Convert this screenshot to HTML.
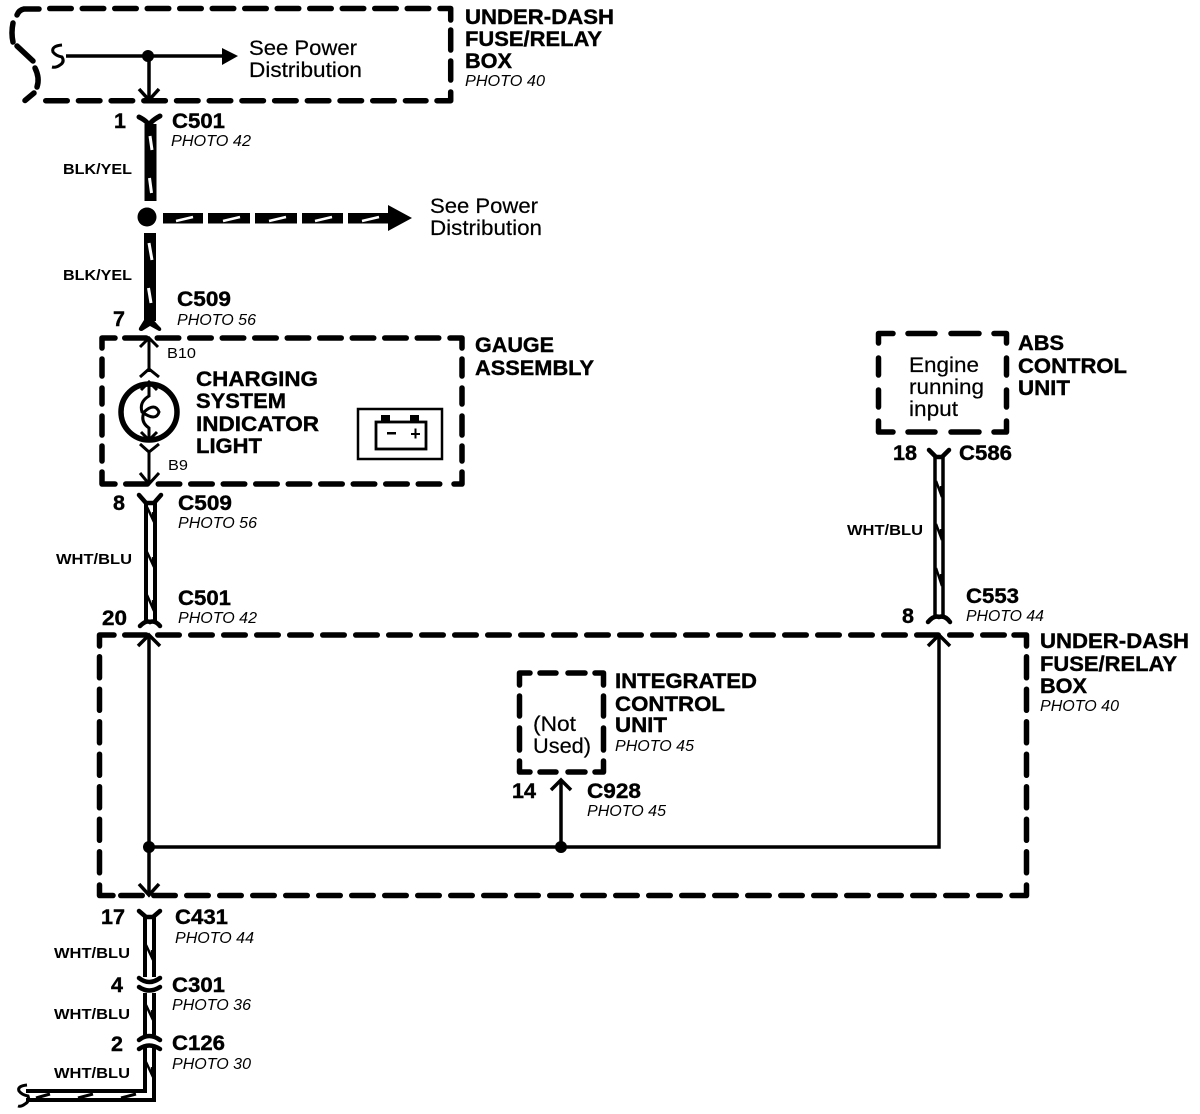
<!DOCTYPE html>
<html><head><meta charset="utf-8">
<style>
html,body{margin:0;padding:0;background:#fff}
svg{display:block}
text{font-family:"Liberation Sans",sans-serif;fill:#000}
.b{font-weight:bold;font-size:21.5px;stroke:#000;stroke-width:.4}
.p{font-style:italic;font-size:15.5px}
.w{font-weight:bold;font-size:15px}
.n{font-size:21px;stroke:#000;stroke-width:.2}
.c{fill:none;stroke:#000;stroke-width:5.5;stroke-linecap:round;stroke-linejoin:round}
.d{fill:none;stroke:#000;stroke-width:5.5;stroke-linecap:round;stroke-dasharray:21.5 11.5}
.t{fill:none;stroke:#000;stroke-width:3.5}
.y{fill:none;stroke:#000;stroke-width:4.5;stroke-linecap:round}
.s{fill:none;stroke:#fff;stroke-width:3}
.z{fill:none;stroke:#000;stroke-width:2.5}
</style></head><body>
<svg width="1200" height="1114" viewBox="0 0 1200 1114" xmlns="http://www.w3.org/2000/svg">
<!-- top box -->
<path class="d" style="stroke-dasharray:21.5 11" d="M49.750 8.500H429"/>
<path class="c" d="M440 8.500H450.700V20M450.700 30V50M450.700 61V80M450.700 92V100.700H437"/>
<path class="d" style="stroke-dasharray:21.5 11.200" d="M45.750 100.700H426"/>
<path class="c" d="M39 9H24Q19 10 17 15M13 23Q11 33 13 42M17 46L33 61M35 68Q40 78 37 87M34 93L25 100.500"/>
<path class="t" d="M66 56H226M149 56V100"/>
<path class="t" style="stroke-width:3" d="M62 45Q51 46 53 52Q56 56 62 57Q65 62 60 65Q56 68 52 67"/>
<path d="M222 48L238 56L222 65Z"/>
<circle cx="148" cy="56" r="6"/>
<path class="t" d="M139 89L149 100L159 89"/>
<text class="b" x="465" y="24" textLength="149" lengthAdjust="spacingAndGlyphs">UNDER-DASH</text>
<text class="b" x="465" y="46" textLength="137" lengthAdjust="spacingAndGlyphs">FUSE/RELAY</text>
<text class="b" x="465" y="68" textLength="47" lengthAdjust="spacingAndGlyphs">BOX</text>
<text class="p" x="465" y="86" textLength="80" lengthAdjust="spacingAndGlyphs">PHOTO 40</text>
<text class="n" x="249" y="55" textLength="108" lengthAdjust="spacingAndGlyphs">See Power</text>
<text class="n" x="249" y="77" textLength="113" lengthAdjust="spacingAndGlyphs">Distribution</text>
<!-- C501 top -->
<text class="b" x="114" y="128">1</text>
<text class="b" x="172" y="128" textLength="53" lengthAdjust="spacingAndGlyphs">C501</text>
<text class="p" x="171" y="146" textLength="80" lengthAdjust="spacingAndGlyphs">PHOTO 42</text>
<path class="y" style="stroke-width:5" d="M139 117Q149 122 149 127Q149 122 160 116"/>
<rect x="144.500" y="124" width="12" height="77"/>
<path class="s" d="M150 136L152 150M149.500 178L151.500 193"/>
<text class="w" x="63" y="174" textLength="69" lengthAdjust="spacingAndGlyphs">BLK/YEL</text>
<circle cx="147" cy="217" r="9.500"/>
<rect x="163" y="213" width="40" height="10.500"/>
<rect x="208" y="213" width="42" height="10.500"/>
<rect x="255" y="213" width="42" height="10.500"/>
<rect x="302" y="213" width="41" height="10.500"/>
<rect x="348" y="213" width="42" height="10.500"/>
<path d="M388 205L412 218L388 231Z"/>
<path class="s" style="stroke-width:2.500" d="M176 221L193 217M223 221L240 217M269 221L286 217M315 221L332 217M362 221L379 217"/>
<text class="n" x="430" y="213" textLength="108" lengthAdjust="spacingAndGlyphs">See Power</text>
<text class="n" x="430" y="235" textLength="112" lengthAdjust="spacingAndGlyphs">Distribution</text>
<rect x="144" y="233" width="12" height="88"/>
<path class="s" d="M149 243L152 260M148.500 288L151 303"/>
<text class="w" x="63" y="280" textLength="69" lengthAdjust="spacingAndGlyphs">BLK/YEL</text>
<path d="M150 316L158 325L161 328Q162 331 159 331L150 326L142 331Q138 331 139 328L144 320Z"/>
<text class="b" x="113" y="326">7</text>
<text class="b" x="177" y="306" textLength="54" lengthAdjust="spacingAndGlyphs">C509</text>
<text class="p" x="177" y="325" textLength="79" lengthAdjust="spacingAndGlyphs">PHOTO 56</text>
<!-- gauge -->
<path class="d" style="stroke-dasharray:21.5 11" d="M124.750 338H445"/>
<path class="d" style="stroke-dasharray:21.5 11" d="M125.750 484H442"/>
<path class="c" d="M115 338H102V348M102 359V376M102 388V404M102 416V435M102 446V461M102 472V484H115"/>
<path class="c" d="M450 338H462V348M462 359V376M462 388V404M462 416V435M462 446V461M462 472V484H454"/>
<path class="t" style="stroke-width:3" d="M149 338V372M140 347L149 338L158 347M140 377L149 369L159 377M149 450V484M140 473L149 484L159 473M140 444L149 452L159 444"/>
<circle cx="149" cy="412" r="28" fill="none" stroke="#000" stroke-width="5.500"/>
<path class="t" style="stroke-width:3" d="M149 385V396Q139 402 142 412Q156 422 159 412Q155 402 144 412Q140 422 149 428V440M141 390L149 382L157 390M141 432L149 440L157 432"/>
<text x="167" y="358" font-size="15" textLength="29" lengthAdjust="spacingAndGlyphs">B10</text>
<text x="168" y="470" font-size="15" textLength="20" lengthAdjust="spacingAndGlyphs">B9</text>
<text class="b" x="196" y="386" textLength="122" lengthAdjust="spacingAndGlyphs">CHARGING</text>
<text class="b" x="196" y="408" textLength="90" lengthAdjust="spacingAndGlyphs">SYSTEM</text>
<text class="b" x="196" y="431" textLength="123" lengthAdjust="spacingAndGlyphs">INDICATOR</text>
<text class="b" x="196" y="453" textLength="66" lengthAdjust="spacingAndGlyphs">LIGHT</text>
<rect x="358" y="409" width="84" height="50" fill="none" stroke="#000" stroke-width="2.500"/>
<rect x="376" y="422" width="50" height="27" fill="none" stroke="#000" stroke-width="2.800"/>
<rect x="381" y="415" width="9" height="7"/><rect x="410" y="415" width="9" height="7"/>
<path d="M387 432h9v2.500h-9zM411 433h9v2h-9zM414.500 428.500h2v10h-2z"/>
<text class="b" x="475" y="352" textLength="79" lengthAdjust="spacingAndGlyphs">GAUGE</text>
<text class="b" x="475" y="375" textLength="119" lengthAdjust="spacingAndGlyphs">ASSEMBLY</text>
<!-- white wire 1 -->
<text class="b" x="113" y="510">8</text>
<text class="b" x="178" y="510" textLength="54" lengthAdjust="spacingAndGlyphs">C509</text>
<text class="p" x="178" y="528" textLength="79" lengthAdjust="spacingAndGlyphs">PHOTO 56</text>
<path class="y" d="M139 495L146 503H154L161 495"/>
<path class="t" style="stroke-width:4" d="M146 503V623M155 503V623"/>
<path class="z" d="M147 507L154 522L153 512M147 552L154 567L153 557M147 595L154 611L153 600"/>
<text class="w" x="56" y="564" textLength="76" lengthAdjust="spacingAndGlyphs">WHT/BLU</text>
<path class="y" d="M140 626Q146 620 150 622Q155 620 160 626"/>
<text class="b" x="102" y="625" textLength="25" lengthAdjust="spacingAndGlyphs">20</text>
<text class="b" x="178" y="605" textLength="53" lengthAdjust="spacingAndGlyphs">C501</text>
<text class="p" x="178" y="623" textLength="79" lengthAdjust="spacingAndGlyphs">PHOTO 42</text>
<!-- ABS -->
<path class="c" d="M893 333.500H878.500V343M908 333.500H935M951 333.500H979M994 333.500H1006.500V343M878.500 358V375M878.500 390V407M1006.500 358V375M1006.500 390V407M878.500 421V432H893M908 432H935M951 432H979M994 432H1006.500V421"/>
<text class="n" x="909" y="372" textLength="70" lengthAdjust="spacingAndGlyphs">Engine</text>
<text class="n" x="909" y="394" textLength="75" lengthAdjust="spacingAndGlyphs">running</text>
<text class="n" x="909" y="416" textLength="49" lengthAdjust="spacingAndGlyphs">input</text>
<text class="b" x="1018" y="350" textLength="46" lengthAdjust="spacingAndGlyphs">ABS</text>
<text class="b" x="1018" y="373" textLength="109" lengthAdjust="spacingAndGlyphs">CONTROL</text>
<text class="b" x="1018" y="395" textLength="52" lengthAdjust="spacingAndGlyphs">UNIT</text>
<text class="b" x="893" y="460" textLength="24" lengthAdjust="spacingAndGlyphs">18</text>
<text class="b" x="959" y="460" textLength="53" lengthAdjust="spacingAndGlyphs">C586</text>
<path class="y" d="M929 450L936 457H942L949 450"/>
<path class="t" d="M935 457V615M943 457V615"/>
<path class="z" d="M936 481L942 497L941 486M936 524L942 540L941 529M936 568L942 586L941 574"/>
<text class="w" x="847" y="535" textLength="76" lengthAdjust="spacingAndGlyphs">WHT/BLU</text>
<text class="b" x="902" y="623">8</text>
<text class="b" x="966" y="603" textLength="53" lengthAdjust="spacingAndGlyphs">C553</text>
<text class="p" x="966" y="621" textLength="78" lengthAdjust="spacingAndGlyphs">PHOTO 44</text>
<path class="y" d="M928 622Q934 615 939 617Q945 615 950 622"/>
<!-- main box -->
<path class="d" d="M124.750 635H1004.500"/>
<path class="d" d="M120.750 895.500H1001"/>
<path class="d" style="stroke-dasharray:21 11.500" d="M99.500 656.750V875"/>
<path class="d" style="stroke-dasharray:21 11.500" d="M1026.500 656.750V875"/>
<path class="c" d="M114 635H99.500V646M99.500 885V895.500H113M1014 635H1026.500V646M1026.500 885V895.500H1012"/>
<path class="t" d="M149 635V895M149 847H939V635M561 780V847"/>
<path class="t" d="M138 646L149 635L160 646M928 646L939 635L950 646M139 884L149 895L159 884M551 790L561 780L571 790"/>
<circle cx="149" cy="847" r="6"/><circle cx="561" cy="847" r="6"/>
<text class="b" x="1040" y="648" textLength="149" lengthAdjust="spacingAndGlyphs">UNDER-DASH</text>
<text class="b" x="1040" y="671" textLength="137" lengthAdjust="spacingAndGlyphs">FUSE/RELAY</text>
<text class="b" x="1040" y="693" textLength="47" lengthAdjust="spacingAndGlyphs">BOX</text>
<text class="p" x="1040" y="711" textLength="79" lengthAdjust="spacingAndGlyphs">PHOTO 40</text>
<!-- ICU -->
<path class="c" d="M530 673H519.500V685M540 673H556M568 673H585M595 673H603.500V685M519.500 696V716M519.500 728V750M519.500 761V772H530M540 772H556M568 772H585M595 772H603.500V761M603.500 696V716M603.500 728V750"/>
<text class="n" x="533" y="731" textLength="43" lengthAdjust="spacingAndGlyphs">(Not</text>
<text class="n" x="533" y="753" textLength="58" lengthAdjust="spacingAndGlyphs">Used)</text>
<text class="b" x="615" y="688" textLength="142" lengthAdjust="spacingAndGlyphs">INTEGRATED</text>
<text class="b" x="615" y="711" textLength="110" lengthAdjust="spacingAndGlyphs">CONTROL</text>
<text class="b" x="615" y="732" textLength="52" lengthAdjust="spacingAndGlyphs">UNIT</text>
<text class="p" x="615" y="751" textLength="79" lengthAdjust="spacingAndGlyphs">PHOTO 45</text>
<text class="b" x="512" y="798" textLength="24" lengthAdjust="spacingAndGlyphs">14</text>
<text class="b" x="587" y="798" textLength="54" lengthAdjust="spacingAndGlyphs">C928</text>
<text class="p" x="587" y="816" textLength="79" lengthAdjust="spacingAndGlyphs">PHOTO 45</text>
<!-- bottom -->
<text class="b" x="101" y="924" textLength="24" lengthAdjust="spacingAndGlyphs">17</text>
<text class="b" x="175" y="924" textLength="53" lengthAdjust="spacingAndGlyphs">C431</text>
<text class="p" x="175" y="943" textLength="79" lengthAdjust="spacingAndGlyphs">PHOTO 44</text>
<path class="y" d="M139 911L146 917H153L160 911"/>
<path class="t" style="stroke-width:4" d="M145 917V977M154 917V977"/>
<path class="z" d="M146 945L153 960L152 950"/>
<text class="w" x="54" y="958" textLength="76" lengthAdjust="spacingAndGlyphs">WHT/BLU</text>
<path class="y" d="M139 978Q149 986 160 978M139 987Q149 994 160 987"/>
<text class="b" x="111" y="992">4</text>
<text class="b" x="172" y="992" textLength="53" lengthAdjust="spacingAndGlyphs">C301</text>
<text class="p" x="172" y="1010" textLength="79" lengthAdjust="spacingAndGlyphs">PHOTO 36</text>
<path class="t" style="stroke-width:4" d="M145 993V1035M154 993V1035"/>
<path class="z" d="M146 1005L153 1020L152 1010"/>
<text class="w" x="54" y="1019" textLength="76" lengthAdjust="spacingAndGlyphs">WHT/BLU</text>
<path class="y" d="M139 1040Q149 1032 160 1040M139 1049Q149 1042 160 1049"/>
<text class="b" x="111" y="1051">2</text>
<text class="b" x="172" y="1050" textLength="53" lengthAdjust="spacingAndGlyphs">C126</text>
<text class="p" x="172" y="1069" textLength="79" lengthAdjust="spacingAndGlyphs">PHOTO 30</text>
<path class="t" style="stroke-width:4" d="M145 1048V1091H26M154 1048V1100H26"/>
<path class="z" d="M146 1062L153 1077L152 1067"/>
<path class="z" style="stroke-width:3" d="M36 1098L50 1094M78 1098L93 1094M121 1098L136 1094"/>
<path class="t" style="stroke-width:3" d="M27 1085Q17 1086 19 1091Q22 1095 28 1096Q30 1101 25 1104Q21 1107 18 1106"/>
<text class="w" x="54" y="1078" textLength="76" lengthAdjust="spacingAndGlyphs">WHT/BLU</text>
</svg>
</body></html>
